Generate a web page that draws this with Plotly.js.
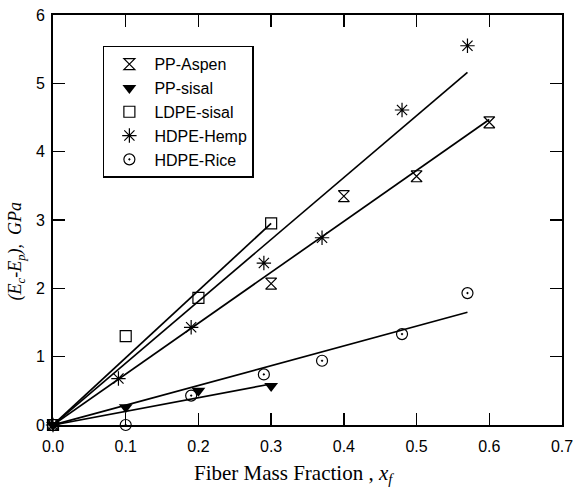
<!DOCTYPE html>
<html><head><meta charset="utf-8">
<script src="https://cdn.plot.ly/plotly-3.0.1.min.js"></script>
<style>body{margin:0;background:#fff}#plot{width:575px;height:490px}</style>
</head><body><div id="plot"></div>
<script>
// Measured data
const aspenX = [0, 0.3, 0.4, 0.5, 0.6];
const aspenY = [0, 2.07, 3.35, 3.64, 4.43];
const ppSisalX = [0, 0.1, 0.2, 0.3];
const ppSisalY = [0, 0.26, 0.5, 0.57];
const ldpeX = [0, 0.1, 0.2, 0.3];
const ldpeY = [0, 1.3, 1.86, 2.95];
const hempX = [0, 0.09, 0.19, 0.29, 0.37, 0.48, 0.57];
const hempY = [0, 0.68, 1.43, 2.37, 2.74, 4.61, 5.55];
const riceX = [0, 0.1, 0.19, 0.29, 0.37, 0.48, 0.57];
const riceY = [0, 0, 0.43, 0.74, 0.94, 1.33, 1.93];
// Fitted lines (start, end)
const fitAspenX = [0, 0.6], fitAspenY = [0, 4.47];
const fitPPSisalX = [0, 0.3], fitPPSisalY = [0, 0.6];
const fitLdpeX = [0, 0.3], fitLdpeY = [0, 2.95];
const fitHempX = [0, 0.57], fitHempY = [0, 5.16];
const fitRiceX = [0, 0.57], fitRiceY = [0, 1.65];
const xTicks = [0, 0.1, 0.2, 0.3, 0.4, 0.5, 0.6, 0.7];
const xTickText = ['0.0','0.1','0.2','0.3','0.4','0.5','0.6','0.7'];
const yTicks = [0, 1, 2, 3, 4, 5, 6];

const lineStyle = {color: '#000', width: 1.7};
function fit(x, y) {
  return {x: x, y: y, mode: 'lines', line: lineStyle, showlegend: false, hoverinfo: 'skip', cliponaxis: false};
}
function pts(x, y, name, symbol, size, lw) {
  return {x: x, y: y, name: name, mode: 'markers', cliponaxis: false,
    marker: {symbol: symbol, size: size, color: '#000', line: {color: '#000', width: lw}}};
}
const traces = [
  fit(fitAspenX, fitAspenY), fit(fitPPSisalX, fitPPSisalY), fit(fitLdpeX, fitLdpeY),
  fit(fitHempX, fitHempY), fit(fitRiceX, fitRiceY),
  pts(aspenX, aspenY, 'PP-Aspen', 'hourglass-open', 11, 1.2),
  pts(ppSisalX, ppSisalY, 'PP-sisal', 'triangle-down', 12, 0),
  pts(ldpeX, ldpeY, 'LDPE-sisal', 'square-open', 11, 1.2),
  pts(hempX, hempY, 'HDPE-Hemp', 'asterisk-open', 12, 1.2),
  pts(riceX, riceY, 'HDPE-Rice', 'circle-open-dot', 11, 1.2)
];
const axisBase = {showgrid: false, zeroline: false, showline: true, linecolor: '#000', linewidth: 2,
  mirror: 'ticks', ticks: 'inside', ticklen: 12, tickwidth: 1.5, tickcolor: '#000',
  tickfont: {family: 'Liberation Sans, Arial, sans-serif', size: 16, color: '#000'}};
const layout = {
  width: 575, height: 490,
  margin: {l: 53, r: 13, t: 15, b: 65},
  paper_bgcolor: '#fff', plot_bgcolor: '#fff',
  xaxis: Object.assign({}, axisBase, {range: [0, 0.7], tickvals: xTicks, ticktext: xTickText, ticklabelstandoff: 6}),
  yaxis: Object.assign({}, axisBase, {range: [0, 6], tickvals: yTicks, ticklabelstandoff: 3}),
  legend: {x: 0.098, y: 0.925, xanchor: 'left', yanchor: 'top', bgcolor: '#fff',
    bordercolor: '#000', borderwidth: 1.5, tracegroupgap: 0, itemwidth: 40,
    font: {family: 'Liberation Sans, Arial, sans-serif', size: 16, color: '#000'}},
  annotations: [
    {xref: 'paper', yref: 'paper', x: 0.473, y: -0.083, xanchor: 'center', yanchor: 'top', showarrow: false,
     text: 'Fiber Mass Fraction , <i>x</i><sub><i>f</i></sub>',
     font: {family: 'Liberation Serif, Times New Roman, serif', size: 21, color: '#000'}},
    {xref: 'paper', yref: 'paper', x: -0.071, y: 0.423, xanchor: 'center', yanchor: 'middle', showarrow: false,
     textangle: -90,
     text: '<i>(E</i><sub><i>c</i></sub><i>-E</i><sub><i>p</i></sub><i>),  GPa</i>',
     font: {family: 'Liberation Serif, Times New Roman, serif', size: 18, color: '#000'}}
  ],
  showlegend: true
};
Plotly.newPlot('plot', traces, layout, {displayModeBar: false, staticPlot: true});
</script></body></html>
